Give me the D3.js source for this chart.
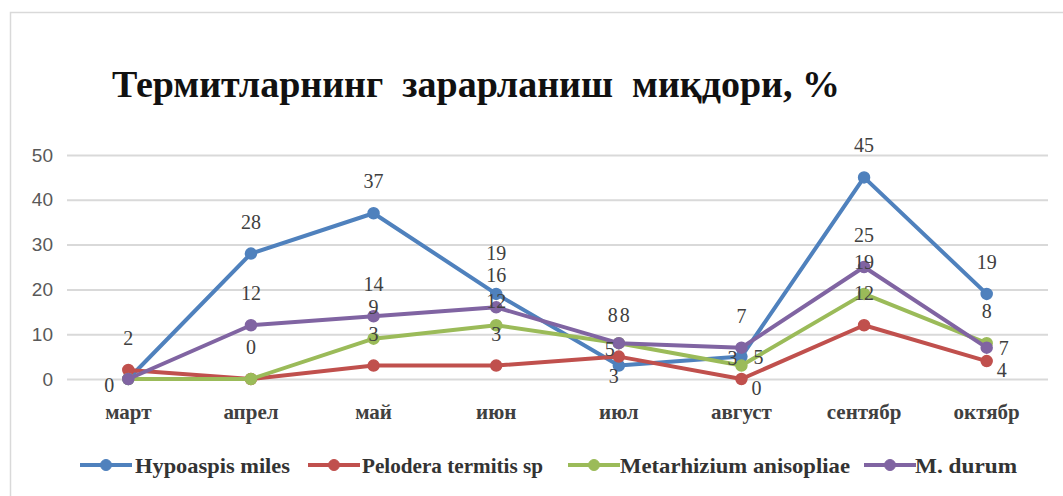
<!DOCTYPE html>
<html>
<head>
<meta charset="utf-8">
<script src="https://cdn.jsdelivr.net/npm/d3@7/dist/d3.min.js"></script>
<style>
  html, body { margin: 0; padding: 0; background: #fff; }
  svg { display: block; }
</style>
</head>
<body>
<svg id="chart" width="1063" height="496"></svg>
<script>
// ---- data ----
const months = ["март", "апрел", "май", "июн", "июл", "август", "сентябр", "октябр"];
const seriesNames = ["Hypoaspis miles", "Pelodera termitis sp", "Metarhizium anisopliae", "M. durum"];
const hypoaspis = [0, 28, 37, 19, 3, 5, 45, 19];
const pelodera = [2, 0, 3, 3, 5, 0, 12, 4];
const metarhizium = [0, 0, 9, 12, 8, 3, 19, 8];
const mdurum = [0, 12, 14, 16, 8, 7, 25, 7];
const yTicks = [0, 10, 20, 30, 40, 50];
const title = "Термитларнинг  зарарланиш  миқдори, %";

// ---- styling ----
const colors = ["#4F81BD", "#C0504D", "#9BBB59", "#8064A2"];
// data label placement per series/point
const labelPlace = [
  ["lb", "a", "a", "ah", "b", "r", "a", "a"],
  ["a", "a", "a", "a", "l", "rb", "a", "rb"],
  ["n", "n", "a", "al", "a2", "l", "a", "a"],
  ["n", "a", "a", "a", "a1", "a", "a", "r"]
];
const placeOffset = {
  a: [0, -32], ah: [0, -41], al: [0, -24], a1: [-6, -28], a2: [6, -28], r: [17, 0], rb: [15, 9],
  b: [-5, 10], l: [-9, -8], lb: [-19, 6]
};

const values = [hypoaspis, pelodera, metarhizium, mdurum];
const svg = d3.select("#chart");

// border
svg.append("rect").attr("x", 10.5).attr("y", 12.5).attr("width", 1070).attr("height", 500)
  .attr("fill", "#fff").attr("stroke", "#d9d9d9").attr("stroke-width", 1.5);

// title
svg.append("text").attr("x", 112).attr("y", 97)
  .attr("font-family", "'Liberation Serif', 'Times New Roman', serif")
  .attr("font-weight", "bold").attr("font-size", 38).attr("fill", "#111")
  .attr("textLength", 728).attr("lengthAdjust", "spacingAndGlyphs")
  .style("white-space", "pre")
  .text(title);

const x = d3.scaleBand().domain(months).range([67, 1048]);
const cx = m => x(m) + x.bandwidth() / 2;
const y = d3.scaleLinear().domain([0, 50]).range([379, 155]);

// gridlines + y labels via axis
const yAxis = d3.axisLeft(y).tickValues(yTicks).tickSize(-(1048 - 67)).tickPadding(12).tickFormat(d3.format("d"));
const gy = svg.append("g").attr("transform", "translate(67,0)").call(yAxis);
gy.select(".domain").remove();
gy.selectAll(".tick line").attr("stroke", "#d9d9d9").attr("stroke-width", 2);
gy.selectAll(".tick text").attr("font-family", "'Liberation Sans', Arial, sans-serif")
  .attr("font-size", 19).attr("fill", "#595959").attr("x", -14);

// x labels via axis
const xAxis = d3.axisBottom(x).tickSize(0).tickPadding(0);
const gx = svg.append("g").attr("transform", "translate(0,404)").call(xAxis);
gx.select(".domain").remove();
gx.selectAll(".tick text").attr("font-family", "'Liberation Serif', 'Times New Roman', serif")
  .attr("font-weight", "bold").attr("font-size", 21).attr("fill", "#404040")
  .attr("dy", "0.71em");

// lines
const line = d3.line().x((d, i) => cx(months[i])).y(d => y(d));
values.forEach((vals, s) => {
  const g = svg.append("g");
  g.append("path").datum(vals).attr("d", line).attr("fill", "none")
    .attr("stroke", colors[s]).attr("stroke-width", 4).attr("stroke-linejoin", "round");
  g.selectAll("circle").data(vals).join("circle")
    .attr("cx", (d, i) => cx(months[i])).attr("cy", d => y(d)).attr("r", 5.5)
    .attr("fill", colors[s]).attr("stroke", colors[s]).attr("stroke-width", 1.5);
});

// data labels
values.forEach((vals, s) => {
  svg.append("g").selectAll("text").data(vals.map((v, i) => ({ v, i, p: labelPlace[s][i] })).filter(d => d.p !== "n"))
    .join("text")
    .attr("x", d => cx(months[d.i]) + placeOffset[d.p][0])
    .attr("y", d => y(d.v) + placeOffset[d.p][1])
    .attr("text-anchor", "middle").attr("dominant-baseline", "central")
    .attr("font-family", "'Liberation Serif', 'Times New Roman', serif")
    .attr("font-size", 20).attr("fill", "#404040")
    .text(d => d.v);
});

// legend
const legendItems = [
  { lx: 80, tx: 135, tw: 155 },
  { lx: 308, tx: 362, tw: 181 },
  { lx: 568, tx: 620, tw: 230 },
  { lx: 864, tx: 915, tw: 102 }
];
const lg = svg.append("g");
seriesNames.forEach((name, s) => {
  const it = legendItems[s];
  lg.append("line").attr("x1", it.lx).attr("x2", it.lx + 52).attr("y1", 465).attr("y2", 465)
    .attr("stroke", colors[s]).attr("stroke-width", 4);
  lg.append("circle").attr("cx", it.lx + 26).attr("cy", 465).attr("r", 5.5)
    .attr("fill", colors[s]).attr("stroke", colors[s]);
  lg.append("text").attr("x", it.tx).attr("y", 465).attr("dominant-baseline", "central")
    .attr("font-family", "'Liberation Serif', 'Times New Roman', serif")
    .attr("font-weight", "bold").attr("font-size", 22).attr("fill", "#333")
    .attr("textLength", it.tw).attr("lengthAdjust", "spacingAndGlyphs")
    .text(name);
});
</script>
</body>
</html>
